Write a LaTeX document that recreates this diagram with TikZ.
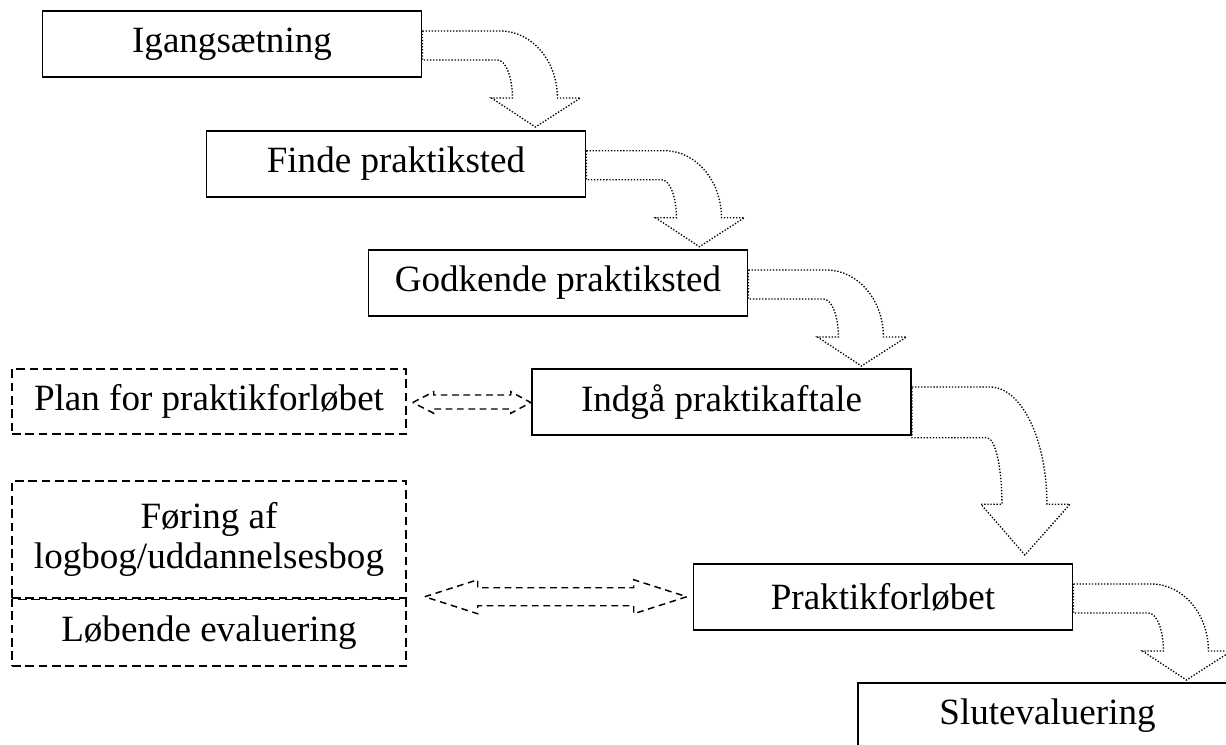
\documentclass[tikz,border=0pt]{standalone}
\usepackage{fontspec}
\setmainfont{Liberation Serif}
\usetikzlibrary{calc}
\tikzset{
  stagebox/.style={draw, line width=1.4pt, minimum width=284.25pt, minimum height=49.5pt, inner sep=0pt, font=\fontsize{27.8pt}{31pt}\selectfont},
  sidebox/.style={draw, line width=1.1pt, dash pattern=on 6.5pt off 3.5pt, minimum width=295.5pt, inner sep=0pt, align=center, font=\fontsize{27.8pt}{30pt}\selectfont},
  dotline/.style={line width=1pt, dash pattern=on 1pt off 1.3pt},
  dashline/.style={line width=1.1pt, dash pattern=on 5pt off 3.5pt},
  bent/.pic={
    \draw[dotline] (0,0) -- (78,0) .. controls (109.5,0) and (135,30) .. (135,67)
      -- (158,67) -- (113,96) -- (69,67) -- (90,67)
      .. controls (90,46) and (83.3,29) .. (75,29) -- (0,29) -- cycle;
  }
}
\begin{document}
\begin{tikzpicture}[x=0.75pt,y=-0.75pt]
\clip (0,0) rectangle (1226,744);
\useasboundingbox (0,0) rectangle (1226,744);

\node[stagebox] (b1) at (232,44) {Igangsætning};
\node[stagebox] (b2) at (396,163.7) {Finde praktiksted};
\node[stagebox] (b3) at (558,283) {Godkende praktiksted};
\node[stagebox] (b4) at (721.5,402) {Indgå praktikaftale};
\node[stagebox] (b5) at (883,597) {Praktikforløbet};
\node[stagebox] (b6) at (1047.5,716) {Slutevaluering};

\node[sidebox, minimum height=48.75pt] (p) at (209,401.5) {Plan for praktikforløbet};
\node[sidebox, minimum height=87.75pt] (f1) at (209,539.5) {Føring af\\logbog/uddannelsesbog};
\node[sidebox, minimum height=50pt, anchor=north] (f2) at (f1.south) {Løbende evaluering};

\pic at ($(b1.east)+(0,-13)$) {bent};
\pic at ($(b2.east)+(0,-13)$) {bent};
\pic at ($(b3.east)+(0,-13)$) {bent};
\pic[yscale=1.75] at ($(b4.east)+(0,-15)$) {bent};
\pic at ($(b5.east)+(0,-13)$) {bent};

\draw[dashline] ($(p.east)+(6,1)$) -- ++(21,-10.8) -- ++(0,3.3) -- ++(77,0) -- ++(0,-3.3)
  -- ++(20,10.8) -- ++(-20,10.8) -- ++(0,-4.3) -- ++(-77,0) -- ++(0,4.3) -- cycle;

\draw[dashline] ($(f2.north east)+(18,-2)$) -- ++(53,-17) -- ++(0,8) -- ++(156,0) -- ++(0,-8)
  -- ++(53,17) -- ++(-53,17) -- ++(0,-8) -- ++(-156,0) -- ++(0,8) -- cycle;
\end{tikzpicture}
\end{document}
